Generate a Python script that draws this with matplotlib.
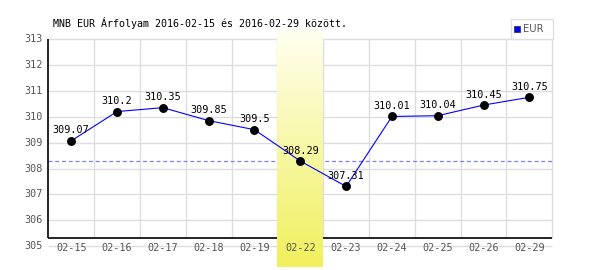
import numpy as np
import matplotlib
matplotlib.use("Agg")
import matplotlib.pyplot as plt
from matplotlib.patches import Rectangle
from matplotlib.lines import Line2D

# ---- data ----
dates = ["02-15", "02-16", "02-17", "02-18", "02-19", "02-22",
         "02-23", "02-24", "02-25", "02-26", "02-29"]
values = [309.07, 310.2, 310.35, 309.85, 309.5, 308.29,
          307.31, 310.01, 310.04, 310.45, 310.75]
value_labels = ["309.07", "310.2", "310.35", "309.85", "309.5", "308.29",
                "307.31", "310.01", "310.04", "310.45", "310.75"]
highlight_date = "02-22"
y_ticks = [305, 306, 307, 308, 309, 310, 311, 312, 313]
title = "MNB EUR Árfolyam 2016-02-15 és 2016-02-29 között."
series_name = "EUR"

W, H = 600, 270
fig = plt.figure(figsize=(W / 100, H / 100), dpi=100)
fig.patch.set_facecolor("white")

left_px, right_px, top_px, bottom_px = 48.3, 552.3, 39.0, 246.3
ax = fig.add_axes([left_px / W, (H - bottom_px) / H,
                   (right_px - left_px) / W, (bottom_px - top_px) / H])
n = len(dates)
x = np.arange(n)
ymin, ymax = y_ticks[0], y_ticks[-1]
ax.set_xlim(-0.5, n - 0.5)
ax.set_ylim(ymin, ymax)
for s in ax.spines.values():
    s.set_visible(False)
ax.set_xticks([])
ax.set_yticks([])

px_per_unit = (bottom_px - top_px) / (ymax - ymin)
px_per_cat = (right_px - left_px) / n
axis_y = ymin + (bottom_px - 238.3) / px_per_unit  # black baseline position

grid_c = "#dddddd"
for yv in y_ticks:
    ax.plot([-0.5, n - 0.5], [yv, yv], color=grid_c, lw=1.0, zorder=1,
            clip_on=False, solid_capstyle="butt")
for k in range(n):
    ax.plot([k + 0.5, k + 0.5], [axis_y, ymax], color=grid_c, lw=1.0,
            zorder=1, clip_on=False, solid_capstyle="butt")

# reference dashed line at highlighted day's value
hi = dates.index(highlight_date)
ref_val = values[hi]
ax.plot([-0.5, n - 0.5], [ref_val, ref_val], color="#8080ff", lw=0.9,
        dashes=(3.2, 2.2), zorder=2, clip_on=False)

# black axes lines
ax.plot([-0.5, n - 0.5], [axis_y, axis_y], color="black", lw=1.2, zorder=3,
        clip_on=False, solid_capstyle="butt")
ax.plot([-0.5, -0.5], [axis_y, ymax], color="black", lw=1.2, zorder=3,
        clip_on=False, solid_capstyle="butt")

# highlight band (gradient)
band_top = ymax + (top_px - 30) / px_per_unit
band_bot = ymin - (267 - bottom_px) / px_per_unit
grad = np.linspace(0, 1, 256)[:, None]
c_top = np.array([255, 255, 240]) / 255
c_bot = np.array([240, 240, 92]) / 255
img = (c_top[None, None, :] * (1 - grad[:, :, None]) +
       c_bot[None, None, :] * grad[:, :, None])
ax.imshow(img, extent=(hi - 0.5, hi + 0.5, band_bot, band_top),
          aspect="auto", origin="upper", zorder=4, clip_on=False,
          interpolation="bilinear")
ax.set_xlim(-0.5, n - 0.5)
ax.set_ylim(ymin, ymax)

# data line and points
ax.plot(x, values, color="#0000ff", lw=0.8, zorder=5, clip_on=False)
ax.plot(x, values, "o", color="black", ms=5.4, zorder=6, clip_on=False)
mono = "DejaVu Sans Mono"
for xi, v, lab in zip(x, values, value_labels):
    ax.annotate(lab, (xi, v), xytext=(0, 7.5), textcoords="offset points",
                ha="center", va="center", fontsize=7.3, family=mono,
                color="black", zorder=7)

tick_c = "#555555"
for yv in y_ticks:
    ax.text(-0.5 - 5.5 / px_per_cat, yv, str(yv), ha="right",
            va="center", fontsize=7.3, family=mono, color=tick_c,
            zorder=7, clip_on=False)
trans_lab = ax.get_xaxis_transform()
for xi, d in zip(x, dates):
    ax.text(xi, -(248.3 - bottom_px) / (bottom_px - top_px), d,
            transform=trans_lab, ha="center", va="center", fontsize=7.3,
            family=mono, color=tick_c, zorder=7, clip_on=False)

# title
fig.text(53 / W, 1 - 23 / H, title, ha="left", va="center", fontsize=7.2,
         family=mono, color="black")

# legend (manual)
lx0, lx1, ly0, ly1 = 511, 552.7, 19, 39
fig.patches.append(Rectangle((lx0 / W, 1 - ly1 / H), (lx1 - lx0) / W,
                             (ly1 - ly0) / H, transform=fig.transFigure,
                             facecolor="white", edgecolor="#dddddd",
                             lw=0.9))
fig.lines.append(Line2D([517 / W], [1 - 29 / H], marker="s", ms=4.6,
                        color="#0000ff", markeredgecolor="#333366",
                        markeredgewidth=0.6, transform=fig.transFigure))
fig.text(523 / W, 1 - 29.5 / H, series_name, ha="left", va="center",
         fontsize=7.2, family="DejaVu Sans", color=tick_c)

fig.savefig("out.png", dpi=100, facecolor="white")
